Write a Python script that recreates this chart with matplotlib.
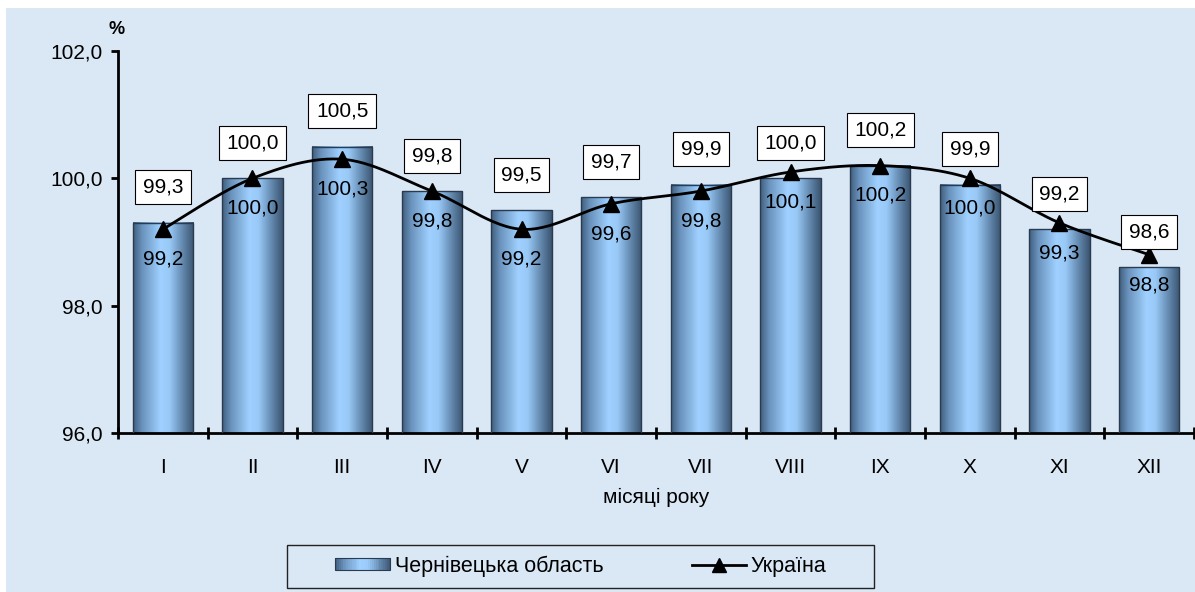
import numpy as np
import matplotlib
matplotlib.use('Agg')
import matplotlib.pyplot as plt
from matplotlib.colors import LinearSegmentedColormap
from matplotlib.patches import Rectangle
from matplotlib.lines import Line2D
from matplotlib.legend_handler import HandlerBase

months = ['I', 'II', 'III', 'IV', 'V', 'VI', 'VII', 'VIII', 'IX', 'X', 'XI', 'XII']
chernivtsi = [99.3, 100.0, 100.5, 99.8, 99.5, 99.7, 99.9, 100.0, 100.2, 99.9, 99.2, 98.6]
ukraine = [99.2, 100.0, 100.3, 99.8, 99.2, 99.6, 99.8, 100.1, 100.2, 100.0, 99.3, 98.8]
y_ticks = [96, 98, 100, 102]

plt.rcParams['font.family'] = ['Liberation Sans', 'DejaVu Sans']

W, H = 1195, 592
FS = 15
bar_cmap = LinearSegmentedColormap.from_list('bar', [
    (0.0, '#3f5d7d'), (0.15, '#6a93bd'), (0.45, '#9fd0ff'),
    (0.6, '#99c9f7'), (0.85, '#5b7fa3'), (1.0, '#3b5470')])


def fmt(v):
    return f'{v:.1f}'.replace('.', ',')


def smooth(xs, ys, n=30):
    # catmull-rom, like excel's smoothed line
    p = np.column_stack([xs, ys]).astype(float)
    out = []
    for i in range(len(p) - 1):
        p0 = p[i - 1] if i > 0 else p[i]
        p1, p2 = p[i], p[i + 1]
        p3 = p[i + 2] if i + 2 < len(p) else p[i + 1]
        t = np.linspace(0, 1, n)[:, None]
        seg = 0.5 * (2 * p1 + (-p0 + p2) * t + (2 * p0 - 5 * p1 + 4 * p2 - p3) * t ** 2
                     + (-p0 + 3 * p1 - 3 * p2 + p3) * t ** 3)
        out.append(seg)
    out = np.vstack(out)
    return out[:, 0], out[:, 1]


class GradientHandler(HandlerBase):
    def create_artists(self, legend, orig_handle, xdescent, ydescent, width, height, fontsize, trans):
        arts = []
        n = 30
        for k in range(n):
            arts.append(Rectangle((-xdescent + k * width / n, -ydescent), width / n + 0.3, height,
                                  facecolor=bar_cmap((k + 0.5) / n), lw=0, transform=trans))
        arts.append(Rectangle((-xdescent, -ydescent), width, height, fill=False,
                              edgecolor='#2a3b4f', lw=0.8, transform=trans))
        return arts


fig = plt.figure(figsize=(W / 100, H / 100), dpi=100)
fig.patches.append(Rectangle((6 / W, 0), 1, 1 - 8 / H, transform=fig.transFigure,
                             facecolor='#dae7f5', edgecolor='none', zorder=-5))

ax = fig.add_axes([118 / W, 159 / H, (1194 - 118) / W, (433 - 51) / H])
ax.patch.set_visible(False)

x = np.arange(len(months))
bars = ax.bar(x, chernivtsi, width=0.67, facecolor='none', edgecolor='#2a3b4f', lw=1, zorder=3)
grad = np.linspace(0, 1, 256)[None, :]
for b, v in zip(bars, chernivtsi):
    ax.imshow(grad, extent=[b.get_x(), b.get_x() + b.get_width(), y_ticks[0], v],
              aspect='auto', cmap=bar_cmap, zorder=2)

sx, sy = smooth(x, ukraine)
ax.plot(sx, sy, color='black', lw=2, zorder=4)
ax.plot(x, ukraine, '^', color='black', ms=11, zorder=4)

for i, v in enumerate(chernivtsi):
    ax.annotate(fmt(v), xy=(i, v), xytext=(0, 25.5), textcoords='offset points',
                ha='center', va='center', fontsize=FS, zorder=6,
                bbox=dict(boxstyle='square,pad=0.36', fc='white', ec='black', lw=0.8))
for i, v in enumerate(ukraine):
    ax.annotate(fmt(v), xy=(i, v), xytext=(0, -21.5), textcoords='offset points',
                ha='center', va='center', fontsize=FS, zorder=5)

ax.set_xlim(-0.5, len(months) - 0.5)
ax.set_ylim(y_ticks[0], y_ticks[-1])
ax.set_yticks(y_ticks)
ax.set_yticklabels([fmt(t) for t in y_ticks], fontsize=FS)
ax.set_xticks(np.arange(-0.5, len(months), 1))
ax.set_xticklabels([])
ax.set_xticks(x, minor=True)
ax.set_xticklabels(months, minor=True, fontsize=FS)
ax.tick_params(axis='x', which='major', direction='inout', length=9, width=2)
ax.tick_params(axis='x', which='minor', length=0, pad=18)
ax.tick_params(axis='y', direction='out', length=5, width=2, pad=6)
for s in ['top', 'right']:
    ax.spines[s].set_visible(False)
for s in ['left', 'bottom']:
    ax.spines[s].set_linewidth(2)

fig.text(656 / W, 1 - 497 / H, 'місяці року', ha='center', va='center', fontsize=FS)
fig.text(117 / W, 1 - 30 / H, '%', ha='center', va='center', fontsize=13, fontweight='bold')

# legend frame
fig.patches.append(Rectangle((287 / W, 1 - 588 / H), (874 - 287) / W, (588 - 545) / H,
                             transform=fig.transFigure, fill=False, edgecolor='#222222', lw=1))
proxy = Rectangle((0, 0), 1, 1)
line_h = Line2D([], [], color='black', lw=2, marker='^', ms=10)
fig.legend([proxy, line_h], ['Чернівецька область', 'Україна'], ncol=2,
           loc='center', bbox_to_anchor=(581 / W, 1 - 566 / H), frameon=False,
           handler_map={proxy: GradientHandler()}, fontsize=15.5, handlelength=2.55,
           handleheight=0.5, handletextpad=0.2, columnspacing=4.1)

fig.savefig('out.png', dpi=100)
